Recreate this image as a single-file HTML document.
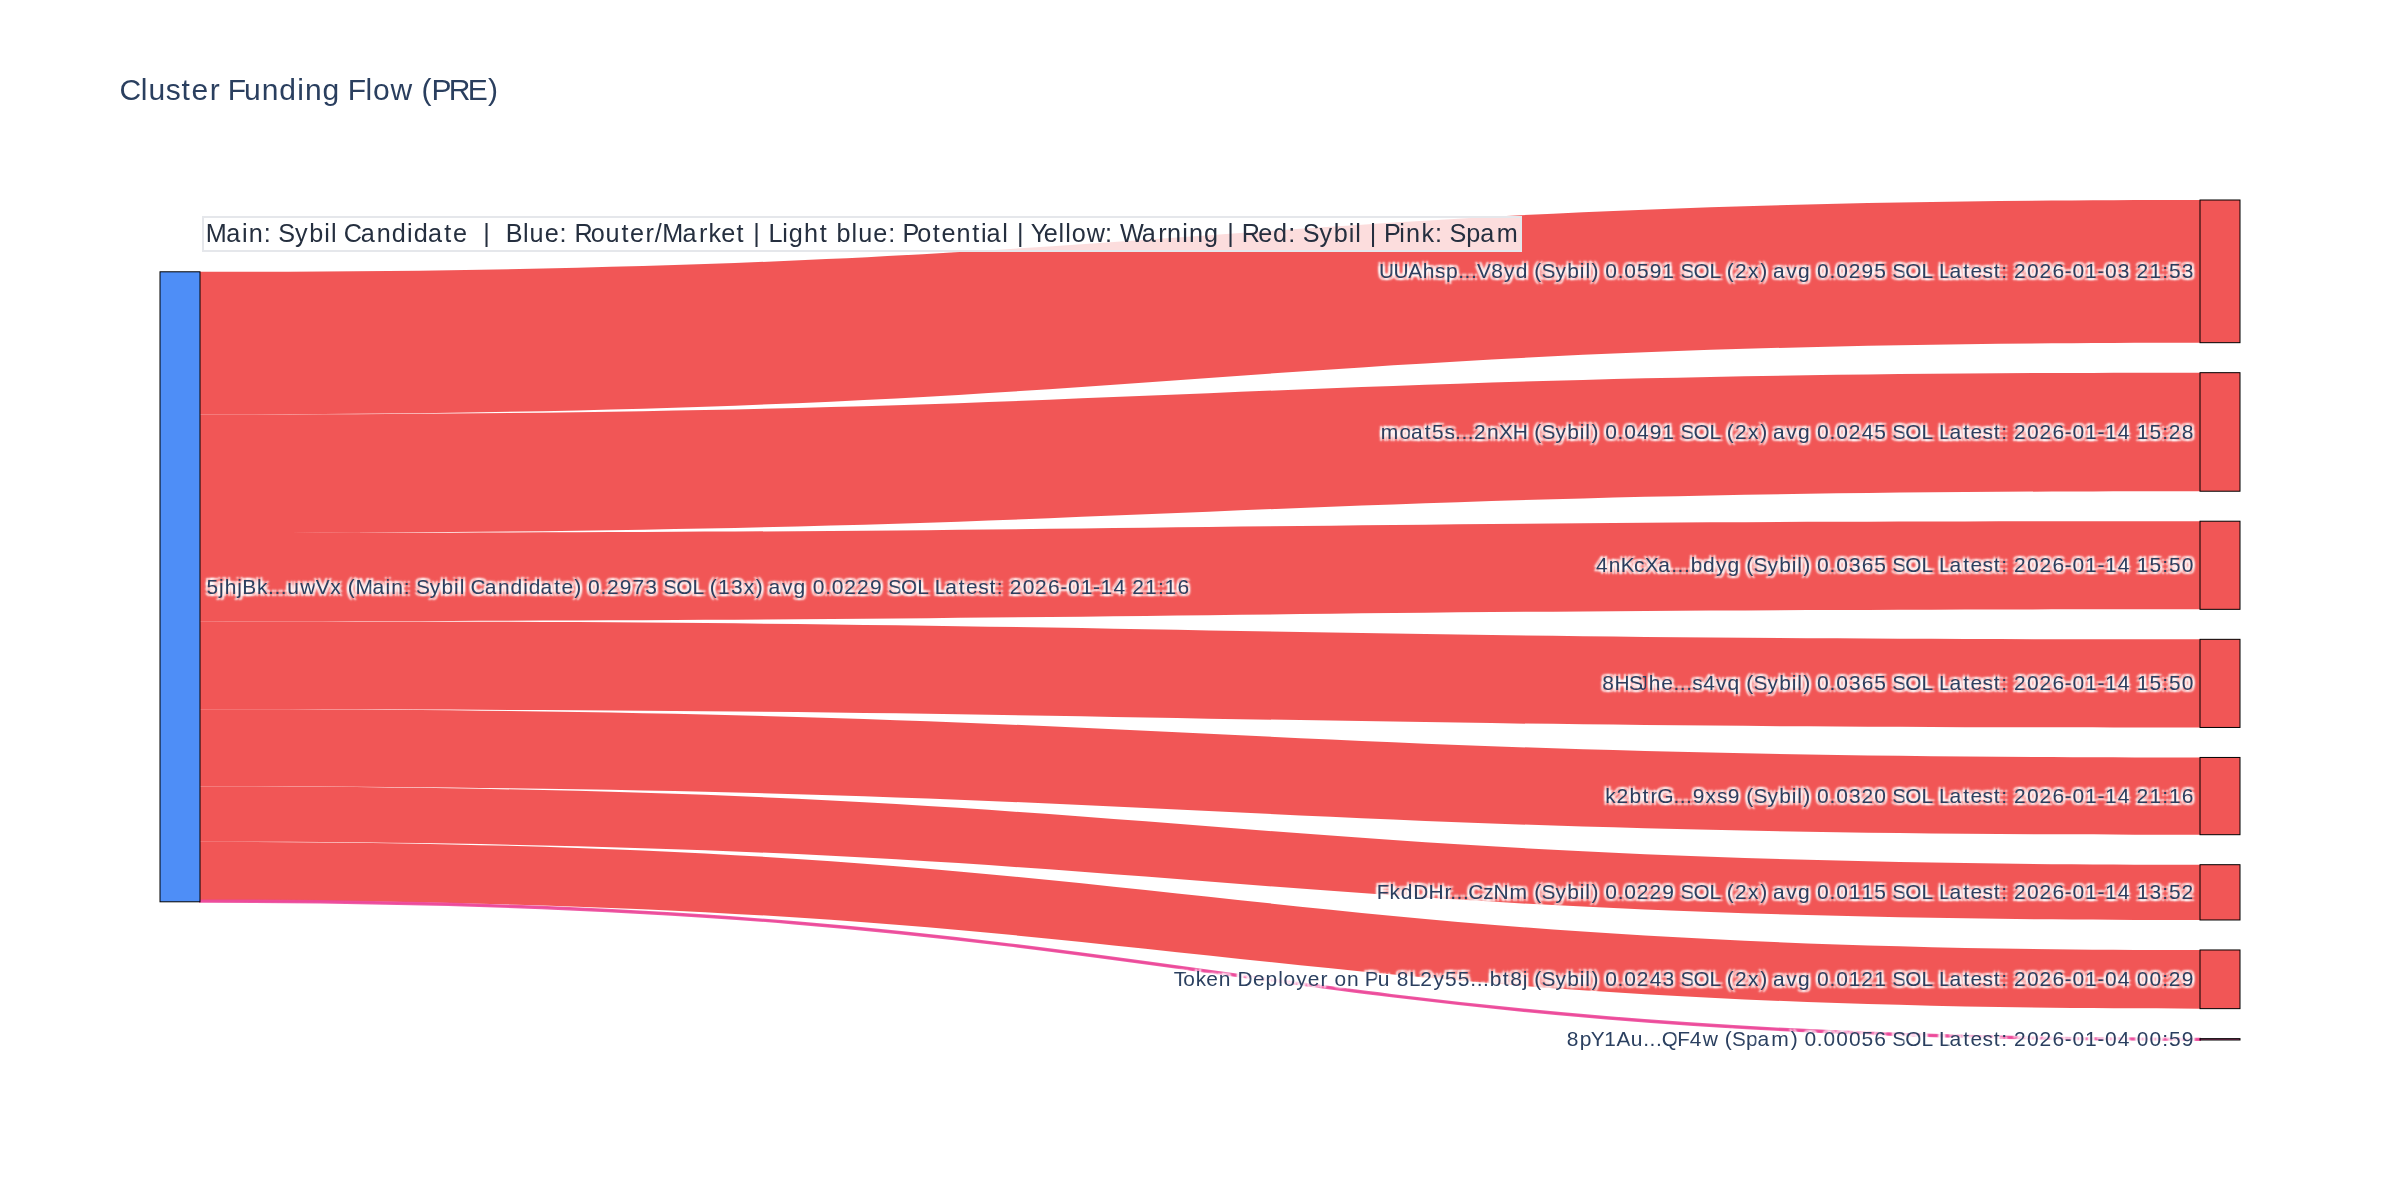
<!DOCTYPE html>
<html><head><meta charset="utf-8"><title>Cluster Funding Flow (PRE)</title>
<style>
html,body{margin:0;padding:0;background:#fff;}
body{width:2400px;height:1200px;overflow:hidden;}
svg{display:block;will-change:transform;}
text{font-family:"Liberation Sans",sans-serif;white-space:pre;}
.lbl{fill:#2a3f5f;text-shadow:2px 2px 2px #fff,-2px -2px 2px #fff,2px -2px 2px #fff,-2px 2px 2px #fff;}
</style></head><body>
<svg width="2400" height="1200" viewBox="0 0 2400 1200">
<text xml:space="preserve" x="119.38 140.7 148.4 165.66 181.5 191.57 209.74 220.26 227.7 243.91 261.78 279.33 297.28 305.08 322.62 340.29 347.73 365.58 373.03 390.53 413.12 421.43 431.54 448.87 467.72 487.91" y="100" font-size="30" fill="#2a3f5f">Cluster Funding Flow (PRE)</text>
<g>
<path d="M200,271.8C1200,271.8 1200,200 2200,200L2200,342.68C1200,342.68 1200,414.48 200,414.48Z" fill="rgba(239,68,68,0.9)"/>
<path d="M200,414.48C1200,414.48 1200,372.68 2200,372.68L2200,491.21C1200,491.21 1200,533.01 200,533.01Z" fill="rgba(239,68,68,0.9)"/>
<path d="M200,533.01C1200,533.01 1200,521.21 2200,521.21L2200,609.33C1200,609.33 1200,621.13 200,621.13Z" fill="rgba(239,68,68,0.9)"/>
<path d="M200,621.13C1200,621.13 1200,639.33 2200,639.33L2200,727.45C1200,727.45 1200,709.25 200,709.25Z" fill="rgba(239,68,68,0.9)"/>
<path d="M200,709.25C1200,709.25 1200,757.45 2200,757.45L2200,834.7C1200,834.7 1200,786.5 200,786.5Z" fill="rgba(239,68,68,0.9)"/>
<path d="M200,786.5C1200,786.5 1200,864.7 2200,864.7L2200,919.98C1200,919.98 1200,841.78 200,841.78Z" fill="rgba(239,68,68,0.9)"/>
<path d="M200,841.78C1200,841.78 1200,949.98 2200,949.98L2200,1008.65C1200,1008.65 1200,900.45 200,900.45Z" fill="rgba(239,68,68,0.9)"/>
<path d="M200,900.45C1200,900.45 1200,1038.65 2200,1038.65L2200,1040C1200,1040 1200,901.8 200,901.8Z" fill="rgba(236,72,153,0.9)" stroke="rgba(236,72,153,0.9)" stroke-width="2"/>
</g>
<rect x="160" y="271.8" width="40" height="630" fill="rgba(59,130,246,0.9)" stroke="#000" stroke-width="1"/>
<rect x="2200" y="200" width="40" height="142.68" fill="rgba(239,68,68,0.9)" stroke="#000" stroke-width="1"/>
<rect x="2200" y="372.68" width="40" height="118.54" fill="rgba(239,68,68,0.9)" stroke="#000" stroke-width="1"/>
<rect x="2200" y="521.21" width="40" height="88.12" fill="rgba(239,68,68,0.9)" stroke="#000" stroke-width="1"/>
<rect x="2200" y="639.33" width="40" height="88.12" fill="rgba(239,68,68,0.9)" stroke="#000" stroke-width="1"/>
<rect x="2200" y="757.45" width="40" height="77.25" fill="rgba(239,68,68,0.9)" stroke="#000" stroke-width="1"/>
<rect x="2200" y="864.7" width="40" height="55.28" fill="rgba(239,68,68,0.9)" stroke="#000" stroke-width="1"/>
<rect x="2200" y="949.98" width="40" height="58.66" fill="rgba(239,68,68,0.9)" stroke="#000" stroke-width="1"/>
<rect x="2200" y="1038.65" width="40" height="1.35" fill="rgba(236,72,153,0.9)" stroke="#000" stroke-width="1"/>
<rect x="203" y="217" width="1318" height="34" fill="rgba(255,255,255,0.8)" stroke="#e5e7eb" stroke-width="2"/>
<text xml:space="preserve" x="205.86 226.14 241.95 248.73 263.83 271.69 278.34 295.03 309.2 324.22 330.88 337.33 343.78 360.83 376.76 391.78 407.09 413.68 427.89 444.3 452.99 467.64 475.28 483.36 490.99 498.63 505.72 522.94 529.61 544.7 559.6 567.44 574.39 590.7 605.59 621.39 630.08 645.62 654.84 662.24 682.54 699 708.49 721.13 736.61 745.19 753.29 760.91 768.39 782.14 788.73 804.11 819.84 828.44 836.51 851.52 858.2 873.28 888.17 896.03 902.57 917.29 932.78 941.47 956.46 972.17 980.98 986.55 1002.35 1008.8 1016.88 1024.52 1030.75 1043.72 1058.6 1065.27 1071.75 1086.78 1104.95 1112.8 1120.08 1141.75 1158.22 1167.12 1182.22 1188.99 1204.01 1219.1 1227.19 1234.81 1241.75 1258.16 1272.96 1288.28 1296.13 1302.78 1319.47 1333.64 1348.66 1355.32 1361.77 1369.85 1377.49 1384.03 1399.28 1406.06 1421.46 1435.06 1442.92 1449.58 1466.23 1480.14 1496.66" y="241.75" font-size="25.2" fill="#252f3f">Main: Sybil Candidate  |  Blue: Router/Market | Light blue: Potential | Yellow: Warning | Red: Sybil | Pink: Spam</text>
<text class="lbl" xml:space="preserve" x="206.44 219.01 224.79 237.24 242.32 256.93 268.06 274.42 280.78 287.33 300.15 315.75 330.22 341.7 347.67 355.48 372.38 385.56 391.2 403.8 410.34 415.89 429.79 441.6 454.11 459.66 465.03 470.41 484.63 497.89 510.42 523.17 528.67 540.5 554.19 561.43 574.31 581.43 588.05 600.52 606.88 619.8 632.54 645.34 657.78 663.33 676.27 692.46 703.71 709.69 718.02 730.89 743.69 755.84 762.96 768.6 781.98 793.54 806.11 812.72 825.17 831.8 844.27 856.99 869.91 882.45 888 900.94 917.13 928.39 934.63 945.16 958.83 966.07 978.13 989.39 996.74 1003.29 1009.63 1022.63 1035.08 1048.08 1060.39 1068.02 1080.63 1093.06 1100.57 1113.41 1125.87 1132.22 1145.1 1157.88 1164.57 1177.39" y="594.4" font-size="21">5jhjBk...uwVx (Main: Sybil Candidate) 0.2973 SOL (13x) avg 0.0229 SOL Latest: 2026-01-14 21:16</text>
<text class="lbl" xml:space="preserve" x="1378.97 1393.6 1408.33 1422.7 1434.96 1445.91 1458.24 1464.58 1470.94 1476.88 1491.25 1504.12 1515.68 1528.25 1534.22 1541.59 1555.51 1567.31 1579.83 1585.38 1591.42 1598.56 1605.16 1617.63 1624.25 1636.89 1649.63 1662.32 1674.89 1680.44 1693.4 1709.57 1720.82 1726.8 1734.97 1748.08 1760.22 1767.36 1772.99 1786.37 1797.92 1810.5 1817.11 1829.56 1836.19 1848.64 1861.58 1874.28 1886.84 1892.37 1905.33 1921.51 1932.78 1939.01 1949.55 1963.22 1970.46 1982.51 1993.78 2001.13 2007.67 2014.02 2027.02 2039.47 2052.46 2064.78 2072.41 2085.02 2097.44 2105.06 2117.83 2130.26 2136.61 2149.49 2162.27 2168.99 2181.81" y="277.94" font-size="21">UUAhsp...V8yd (Sybil) 0.0591 SOL (2x) avg 0.0295 SOL Latest: 2026-01-03 21:53</text>
<text class="lbl" xml:space="preserve" x="1380.86 1399.56 1411.07 1424.73 1432.07 1444.44 1455.02 1461.38 1467.74 1474.1 1487.1 1499.05 1512.87 1528.25 1534.22 1541.59 1555.49 1567.31 1579.81 1585.37 1591.42 1598.54 1605.16 1617.61 1624.24 1636.97 1649.63 1662.3 1674.89 1680.44 1693.38 1709.57 1720.82 1726.8 1734.97 1748.06 1760.22 1767.34 1772.97 1786.36 1797.92 1810.48 1817.1 1829.56 1836.19 1848.64 1861.63 1874.28 1886.82 1892.37 1905.32 1921.51 1932.76 1939.01 1949.53 1963.2 1970.45 1982.51 1993.78 2001.13 2007.67 2014.02 2027 2039.46 2052.46 2064.77 2072.39 2085.01 2097.44 2104.96 2117.78 2130.25 2136.76 2149.52 2162.25 2168.79 2181.78" y="438.54" font-size="21">moat5s...2nXH (Sybil) 0.0491 SOL (2x) avg 0.0245 SOL Latest: 2026-01-14 15:28</text>
<text class="lbl" xml:space="preserve" x="1595.98 1608.73 1620.86 1633.99 1644.79 1658.21 1671.19 1677.53 1683.89 1690.63 1703.09 1716.05 1727.62 1740.18 1746.16 1753.53 1767.44 1779.24 1791.77 1797.32 1803.36 1810.5 1817.1 1829.56 1836.19 1848.94 1861.63 1874.28 1886.82 1892.37 1905.33 1921.51 1932.76 1939.01 1949.53 1963.22 1970.45 1982.51 1993.78 2001.13 2007.67 2014.02 2027 2039.47 2052.46 2064.77 2072.39 2085.02 2097.44 2104.96 2117.78 2130.26 2136.76 2149.52 2162.25 2168.97 2181.78" y="571.87" font-size="21">4nKcXa...bdyg (Sybil) 0.0365 SOL Latest: 2026-01-14 15:50</text>
<text class="lbl" xml:space="preserve" x="1602.36 1614.49 1629.05 1648.7 1661.23 1673.42 1679.78 1686.14 1692.35 1703.19 1716.06 1727.62 1740.18 1746.16 1753.53 1767.44 1779.24 1791.77 1797.3 1803.36 1810.48 1817.1 1829.56 1836.19 1848.94 1861.63 1874.28 1886.82 1892.37 1905.32 1921.51 1932.76 1939.01 1949.53 1963.2 1970.45 1982.51 1993.78 2001.13 2007.67 2014.02 2027 2039.46 2052.46 2064.77 2072.39 2085.01 2097.44 2104.96 2117.78 2130.25 2136.76 2149.52 2162.25 2168.97 2181.78" y="689.99" font-size="21">8HShe...s4vq (Sybil) 0.0365 SOL Latest: 2026-01-14 15:50</text>
<text transform="translate(1639.79,689.99) scale(0.720,1)" x="0" y="0" font-size="21" fill="#2a3f5f">J</text>
<text class="lbl" xml:space="preserve" x="1605.29 1616.43 1629.52 1642.54 1650.44 1657.24 1673.41 1679.77 1686.11 1692.67 1705.58 1716.88 1727.66 1740.18 1746.16 1753.55 1767.44 1779.26 1791.77 1797.32 1803.36 1810.5 1817.11 1829.56 1836.19 1848.94 1861.38 1874.36 1886.82 1892.37 1905.33 1921.51 1932.76 1939.01 1949.53 1963.22 1970.46 1982.51 1993.78 2001.13 2007.67 2014.02 2027 2039.47 2052.46 2064.78 2072.39 2085.02 2097.44 2104.96 2117.78 2130.26 2136.61 2149.49 2162.25 2168.96 2181.78" y="802.67" font-size="21">k2btrG...9xs9 (Sybil) 0.0320 SOL Latest: 2026-01-14 21:16</text>
<text class="lbl" xml:space="preserve" x="1376.7 1389.6 1400.87 1413.34 1428.51 1444.62 1450.25 1456.61 1462.97 1468.36 1483.14 1493.44 1509.55 1528.25 1534.22 1541.59 1555.51 1567.31 1579.83 1585.37 1591.42 1598.54 1605.16 1617.63 1624.25 1636.71 1649.43 1662.36 1674.89 1680.44 1693.38 1709.57 1720.82 1726.8 1734.97 1748.08 1760.22 1767.36 1772.97 1786.37 1797.92 1810.5 1817.11 1829.56 1836.19 1848.8 1861.54 1874.28 1886.82 1892.37 1905.33 1921.51 1932.76 1939.01 1949.53 1963.22 1970.46 1982.51 1993.78 2001.13 2007.67 2014.02 2027 2039.47 2052.46 2064.78 2072.39 2085.02 2097.44 2104.96 2117.78 2130.26 2136.77 2149.62 2162.25 2168.99 2181.52" y="898.94" font-size="21">FkdDHr...CzNm (Sybil) 0.0229 SOL (2x) avg 0.0115 SOL Latest: 2026-01-14 13:52</text>
<text class="lbl" xml:space="preserve" x="1173.73 1183.13 1195.78 1206.31 1218.79 1231.18 1237.43 1253.04 1265.62 1278.13 1283.53 1296.15 1307.67 1320.62 1328.11 1334.49 1346.98 1359.37 1364.83 1377.63 1390.12 1396.74 1409.08 1420.33 1433.46 1445.08 1457.8 1470.35 1476.7 1483.05 1489.79 1502.81 1510.22 1522.71 1528.25 1534.22 1541.59 1555.49 1567.31 1579.81 1585.37 1591.42 1598.54 1605.16 1617.61 1624.24 1636.71 1649.69 1662.44 1674.89 1680.44 1693.38 1709.57 1720.82 1726.8 1734.97 1748.06 1760.22 1767.34 1772.97 1786.36 1797.92 1810.48 1817.1 1829.56 1836.19 1848.8 1861.36 1874.26 1886.82 1892.37 1905.32 1921.51 1932.76 1939.01 1949.53 1963.2 1970.45 1982.51 1993.78 2001.13 2007.67 2014.02 2027 2039.46 2052.46 2064.77 2072.39 2085.01 2097.44 2105.06 2117.78 2130.25 2136.86 2149.6 2162.25 2168.79 2181.72" y="985.92" font-size="21">Token Deployer on Pu 8L2y55...bt8j (Sybil) 0.0243 SOL (2x) avg 0.0121 SOL Latest: 2026-01-04 00:29</text>
<text class="lbl" xml:space="preserve" x="1566.81 1579.65 1590.81 1604.33 1616.49 1630.78 1643.27 1649.61 1655.97 1661.79 1677.13 1689.84 1702.63 1718.67 1724.64 1732.01 1745.9 1757.49 1771.27 1790.64 1797.76 1804.38 1816.83 1823.46 1836.19 1848.91 1861.55 1874.36 1886.82 1892.37 1905.32 1921.51 1932.76 1939.01 1949.53 1963.2 1970.45 1982.51 1993.78 2001.13 2007.67 2014.02 2027 2039.46 2052.46 2064.77 2072.39 2085.01 2097.44 2105.06 2117.78 2130.25 2136.86 2149.6 2162.25 2168.97 2181.72" y="1045.92" font-size="21">8pY1Au...QF4w (Spam) 0.00056 SOL Latest: 2026-01-04 00:59</text>
</svg>
</body></html>
